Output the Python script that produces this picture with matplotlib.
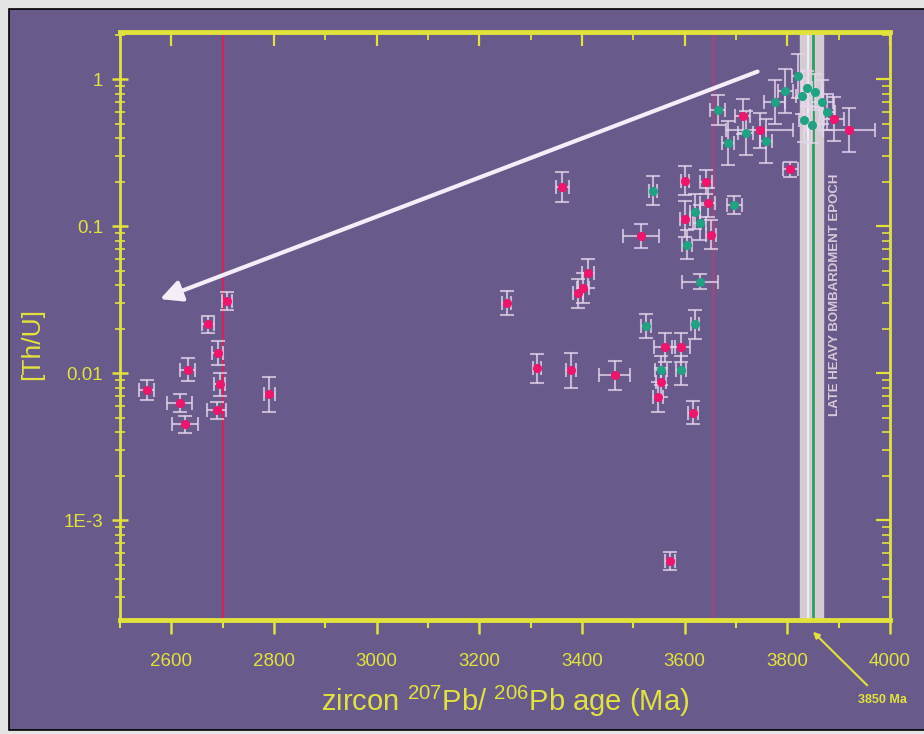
import numpy as np
import matplotlib.pyplot as plt
from matplotlib.patches import Rectangle
from matplotlib.ticker import FixedLocator, FixedFormatter, NullFormatter

plt.rcParams['font.family'] = ['Liberation Sans', 'DejaVu Sans']
plt.rcParams['mathtext.fontset'] = 'custom'
plt.rcParams['mathtext.rm'] = 'Liberation Sans'

# ---- data: red (magenta) zircons ----
red_age = [2708, 2671, 2690, 2632, 2694, 2552, 2791, 2616, 2688, 2626,
           3362, 3600, 3641, 3645, 3600, 3651, 3515, 3412, 3402, 3392, 3253,
           3561, 3593, 3554, 3548, 3313, 3379, 3464, 3616, 3571,
           3713, 3746, 3891, 3920, 3806]
red_thu = [0.031, 0.0215, 0.0138, 0.0106, 0.0084, 0.0077, 0.0072, 0.0063, 0.0056, 0.0045,
           0.185, 0.205, 0.20, 0.145, 0.112, 0.088, 0.086, 0.048, 0.038, 0.035, 0.030,
           0.0150, 0.0150, 0.0087, 0.0069, 0.0108, 0.0105, 0.0097, 0.0054, 0.00053,
           0.56, 0.45, 0.54, 0.45, 0.245]
red_xerr = [10, 12, 10, 15, 10, 15, 10, 25, 18, 25,
            12, 8, 12, 15, 10, 10, 35, 12, 12, 10, 8,
            20, 18, 10, 10, 8, 10, 30, 10, 10,
            15, 65, 20, 50, 15]
red_ydex = [0.06, 0.06, 0.08, 0.08, 0.08, 0.07, 0.12, 0.06, 0.06, 0.06,
            0.10, 0.10, 0.08, 0.10, 0.12, 0.10, 0.08, 0.10, 0.10, 0.10, 0.08,
            0.10, 0.10, 0.10, 0.10, 0.10, 0.12, 0.10, 0.08, 0.06,
            0.12, 0.12, 0.15, 0.15, 0.05]

# ---- data: teal (green) zircons ----
teal_age = [3538, 3620, 3629, 3604, 3697, 3629, 3525, 3620, 3554, 3593,
            3664, 3684, 3719, 3758, 3775, 3796, 3820, 3829, 3833, 3854,
            3868, 3878, 3849, 3839]
teal_thu = [0.175, 0.126, 0.106, 0.075, 0.14, 0.042, 0.021, 0.0215, 0.0105, 0.0105,
            0.62, 0.37, 0.43, 0.38, 0.70, 0.83, 1.05, 0.77, 0.53, 0.82,
            0.70, 0.60, 0.49, 0.87]
teal_xerr = [8, 10, 12, 10, 15, 35, 10, 8, 12, 10,
             15, 12, 15, 12, 20, 15, 10, 12, 10, 15,
             20, 15, 12, 10]
teal_ydex = [0.10, 0.12, 0.12, 0.10, 0.06, 0.05, 0.08, 0.10, 0.10, 0.10,
             0.10, 0.15, 0.15, 0.15, 0.15, 0.15, 0.15, 0.12, 0.15, 0.12,
             0.15, 0.12, 0.12, 0.12]

x_ticks = [2600, 2800, 3000, 3200, 3400, 3600, 3800, 4000]
x_minor = [2500, 2700, 2900, 3100, 3300, 3500, 3700, 3900]
y_ticks = [1e-3, 1e-2, 1e-1, 1]
y_labels = ['1E-3', '0.01', '0.1', '1']

bg = '#695a8c'
yellow = '#e2e23c'
bar_col = '#e6d6ec'

fig = plt.figure(figsize=(9.24, 7.34), dpi=100, facecolor='#e4e4e4')
fig.patches.append(Rectangle((9 / 924, 4 / 734), 1, 721 / 734, transform=fig.transFigure,
                             facecolor=bg, edgecolor='black', linewidth=1.2, zorder=-10))

ax = fig.add_axes([120 / 924, 114 / 734, 770 / 924, 588 / 734])
ax.set_facecolor(bg)
ax.set_xlim(2500, 4000)
ax.set_ylim(2.1e-4, 2.1)
ax.set_yscale('log')

# late heavy bombardment band
ax.axvspan(3825, 3870, color='#d4ccd2', zorder=1)
ax.axvline(3840, color='#f0ecf0', lw=1.5, zorder=1)
ax.axvline(3850, color='#2aa060', lw=2, zorder=1)
ax.text(3893, 0.034, 'LATE HEAVY BOMBARDMENT EPOCH', rotation=90, color='#d8c8d8',
        fontsize=9.5, ha='center', va='center', fontweight='bold', zorder=2)

# vertical reference lines
ax.axvline(2700, color='#d8205e', lw=1.6, zorder=2)
ax.axvline(3655, color='#9a4a7e', lw=2.5, alpha=0.8, zorder=1)

def draw(age, thu, xerr, ydex, col):
    thu = np.array(thu)
    d = np.array(ydex)
    yerr = [thu - thu / 10 ** d, thu * 10 ** d - thu]
    ax.errorbar(age, thu, xerr=xerr, yerr=yerr, fmt='none', ecolor=bar_col,
                elinewidth=1.5, capsize=5, capthick=1.5, alpha=0.75, zorder=3)
    ax.plot(age, thu, 'o', ms=5.5, color=col, mec=col, zorder=4)

draw(red_age, red_thu, red_xerr, red_ydex, '#f0146c')
draw(teal_age, teal_thu, teal_xerr, teal_ydex, '#1fa383')

# trend arrow
ax.annotate('', xy=(2578, 0.032), xytext=(3742, 1.13),
            arrowprops=dict(arrowstyle='-|>', color='#f4eef8', lw=3, mutation_scale=32,
                            shrinkA=0, shrinkB=0), zorder=5)

# axes styling
for s in ['top', 'bottom']:
    ax.spines[s].set_color(yellow)
    ax.spines[s].set_linewidth(3.5)
for s in ['left', 'right']:
    ax.spines[s].set_color(yellow)
    ax.spines[s].set_linewidth(2)

ax.xaxis.set_major_locator(FixedLocator(x_ticks))
ax.xaxis.set_minor_locator(FixedLocator(x_minor))
ax.yaxis.set_major_locator(FixedLocator(y_ticks))
ax.yaxis.set_major_formatter(FixedFormatter(y_labels))
ax.yaxis.set_minor_formatter(NullFormatter())
ax.tick_params(axis='both', which='both', colors=yellow, labelcolor=yellow, labelsize=13.5)
ax.tick_params(axis='x', which='major', direction='out', length=10, width=1.8, pad=14)
ax.tick_params(axis='x', which='minor', direction='out', length=6, width=1.5)
ax.tick_params(axis='y', which='major', direction='inout', length=12, width=1.8, pad=6)
ax.tick_params(axis='y', which='minor', direction='inout', length=7, width=1.2)

# inward ticks on top and right
top = ax.secondary_xaxis('top')
top.xaxis.set_major_locator(FixedLocator(x_ticks))
top.xaxis.set_minor_locator(FixedLocator(x_minor))
top.tick_params(which='major', direction='in', length=10, width=1.6, colors=yellow, labeltop=False)
top.tick_params(which='minor', direction='in', length=6, width=1.3, colors=yellow)
top.spines['top'].set_visible(False)

right = ax.secondary_yaxis('right')
right.yaxis.set_major_locator(FixedLocator(y_ticks))
right.tick_params(which='major', direction='in', length=10, width=1.6, colors=yellow, labelright=False)
right.tick_params(which='minor', direction='in', length=6, width=1.2, colors=yellow, labelright=False)
right.spines['right'].set_visible(False)

ax.set_xlabel(r'zircon $^{\mathregular{207}}$Pb/ $^{\mathregular{206}}$Pb age (Ma)',
              color=yellow, fontsize=21, labelpad=10)
ax.set_ylabel('[Th/U]', color=yellow, fontsize=19)
ax.yaxis.set_label_coords(-0.098, 0.47)

# 3850 Ma marker
ax.annotate('3850 Ma', xy=(3850, -0.02), xycoords=('data', 'axes fraction'),
            xytext=(882, 34), textcoords='figure pixels', color=yellow, fontsize=9,
            fontweight='bold', ha='center', va='center',
            arrowprops=dict(arrowstyle='-|>', color=yellow, lw=1.5, shrinkA=6, shrinkB=0))

plt.savefig('out.png', dpi=100, facecolor=fig.get_facecolor())
